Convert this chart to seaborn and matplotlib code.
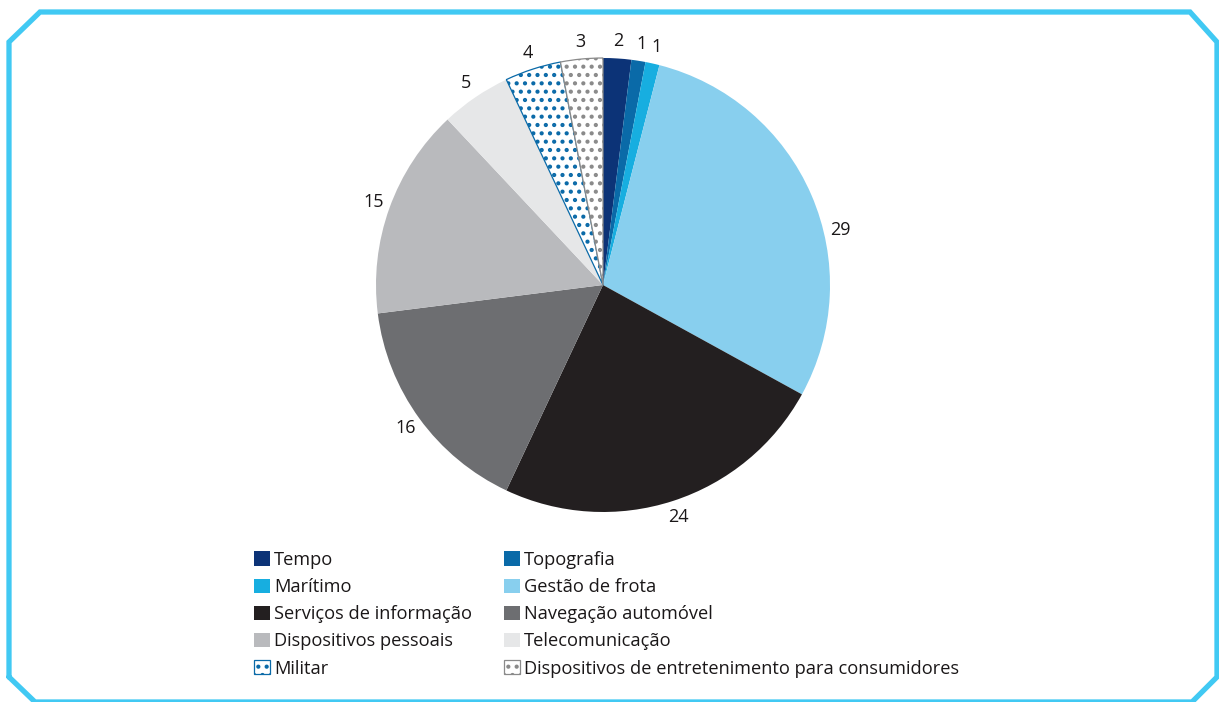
import numpy as np
import matplotlib.pyplot as plt
import matplotlib.patches as mpatches
from matplotlib.lines import Line2D
import seaborn as sns

sns.set_style("white")
plt.rcParams["font.family"] = ["Open Sans", "DejaVu Sans"]
plt.rcParams["hatch.linewidth"] = 1.8

# data
categories = ["Tempo", "Topografia", "Marítimo", "Gestão de frota",
              "Serviços de informação", "Navegação automóvel",
              "Dispositivos pessoais", "Telecomunicação", "Militar",
              "Dispositivos de entretenimento para consumidores"]
values = [2, 1, 1, 29, 24, 16, 15, 5, 4, 3]

# style
fills = sns.color_palette(["#0c3377", "#0a6aa8", "#17aee0", "#88cfee", "#231f20",
                           "#6d6e71", "#b9babd", "#e6e7e8", "#ffffff", "#ffffff"])
hatches = [None] * 8 + ["..", ".."]
edges = [None] * 8 + ["#0a6aa8", "#8a8a8a"]
label_shift = [0, 0, 0, 10.4, 0, 0, 0, 0, 0, 0]   # degrees, for label placement
FRAME = "#41c9f3"
TEXT = "#1a1718"

W, H = 1219, 702
fig = plt.figure(figsize=(W / 100, H / 100), dpi=100)

cx, cy, R = 603, 285, 227
half = 1.25 * R
ax = fig.add_axes([(cx - half) / W, (H - cy - half) / H, 2 * half / W, 2 * half / H])

wedges, _ = ax.pie(values, colors=fills, startangle=90, counterclock=False,
                   wedgeprops=dict(linewidth=0))
for w, h, e in zip(wedges, hatches, edges):
    if h:
        w.set_hatch(h)
        w.set_edgecolor(e)
        w.set_linewidth(0.9)
ax.set_xlim(-1.25, 1.25)
ax.set_ylim(-1.25, 1.25)
ax.set_aspect("equal")
ax.axis("off")

for w, v, s in zip(wedges, values, label_shift):
    ang = np.deg2rad((w.theta1 + w.theta2) / 2 - s)
    ax.text(1.075 * np.cos(ang), 1.075 * np.sin(ang), str(v),
            ha="center", va="center", fontsize=13, color=TEXT)

# legend, filled row by row in two columns
handles = [mpatches.Patch(facecolor=f, hatch=h, edgecolor=e if e else f,
                          linewidth=0.9 if e else 0)
           for f, h, e in zip(fills, hatches, edges)]
order = [0, 2, 4, 6, 8, 1, 3, 5, 7, 9]
leg = fig.legend([handles[i] for i in order], [categories[i] for i in order],
                 ncol=2, loc="upper left", bbox_to_anchor=(254 / W, 1 - 551 / H),
                 frameon=False, fontsize=13.15, handlelength=0.85, handleheight=0.85,
                 handletextpad=0.25, labelspacing=0.5, columnspacing=1.75,
                 borderpad=0, borderaxespad=0)
for t in leg.get_texts():
    t.set_color(TEXT)

# outer frame with clipped corners
fx = [9, 9, 40, 1190, 1217, 1217, 1192, 35, 9]
fy = [677, 42, 12, 12, 42, 677, 702, 702, 677]
fig.add_artist(Line2D([x / W for x in fx], [1 - y / H for y in fy],
                      transform=fig.transFigure, color=FRAME, linewidth=3.8,
                      solid_joinstyle="miter"))

fig.savefig("out.png", dpi=100)
